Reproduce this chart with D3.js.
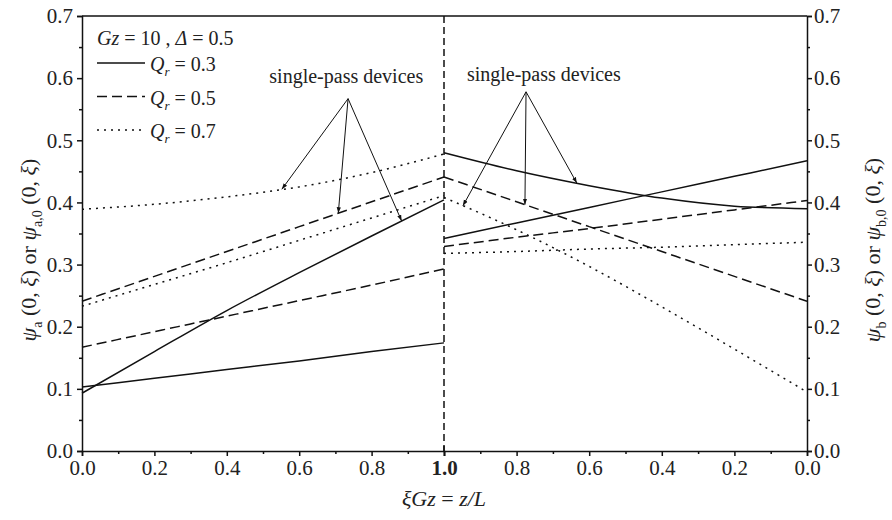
<!DOCTYPE html>
<html>
<head>
<meta charset="utf-8">
<script src="https://cdn.jsdelivr.net/npm/d3@7"></script>
<style>
  body { margin: 0; background: #fff; }
  svg text { font-family: "Liberation Serif", "Times New Roman", serif; fill: #222; }
</style>
</head>
<body>
<div id="container"></div>
<script>
// positions along the unit, left half runs 0 -> 1, right half runs 1 -> 0
var xiLeft = [0, 0.2, 0.4, 0.6, 0.8, 1.0];
var xiRight = [1.0, 0.8, 0.6, 0.4, 0.2, 0.0];

// Qr = 0.3 (solid)
var solidLeftA = [0.093, 0.160, 0.226, 0.287, 0.346, 0.404];
var solidLeftB = [0.103, 0.117, 0.131, 0.145, 0.160, 0.174];
var solidRightA = [0.480, 0.451, 0.427, 0.407, 0.394, 0.390];
var solidRightB = [0.342, 0.367, 0.392, 0.417, 0.442, 0.467];
// Qr = 0.5 (dashed)
var dashLeftA = [0.241, 0.281, 0.321, 0.361, 0.401, 0.441];
var dashLeftB = [0.167, 0.192, 0.217, 0.242, 0.267, 0.293];
var dashRightA = [0.441, 0.401, 0.361, 0.321, 0.281, 0.241];
var dashRightB = [0.329, 0.344, 0.358, 0.373, 0.388, 0.403];
// Qr = 0.7 (dotted)
var dotLeftA = [0.389, 0.397, 0.409, 0.425, 0.448, 0.478];
var dotLeftB = [0.233, 0.268, 0.303, 0.339, 0.375, 0.411];
var dotRightA = [0.408, 0.356, 0.297, 0.232, 0.164, 0.095];
var dotRightB = [0.318, 0.321, 0.325, 0.328, 0.332, 0.336];

var yTicks = [0, 0.1, 0.2, 0.3, 0.4, 0.5, 0.6, 0.7];
var yMinor = [0.05, 0.15, 0.25, 0.35, 0.45, 0.55, 0.65];
var xTicksLeft = [0, 0.2, 0.4, 0.6, 0.8];
var xTicksRight = [0.8, 0.6, 0.4, 0.2, 0];
var xMinor = [0.1, 0.3, 0.5, 0.7, 0.9];
var legendLabels = ["0.3", "0.5", "0.7"];

var width = 892, height = 520;
var styles = { solid: null, dashed: "10,5", dotted: "2,5" };

var svg = d3.select("#container").append("svg")
    .attr("width", width)
    .attr("height", height);

var xLeft = d3.scaleLinear().domain([0, 1]).range([82, 444]);
var xRight = d3.scaleLinear().domain([1, 0]).range([444, 807]);
var y = d3.scaleLinear().domain([0, 0.7]).range([451, 16]);

// curves
var series = [
  { xs: xiLeft, ys: solidLeftA, sc: xLeft, st: "solid" },
  { xs: xiLeft, ys: solidLeftB, sc: xLeft, st: "solid" },
  { xs: xiRight, ys: solidRightA, sc: xRight, st: "solid" },
  { xs: xiRight, ys: solidRightB, sc: xRight, st: "solid" },
  { xs: xiLeft, ys: dashLeftA, sc: xLeft, st: "dashed" },
  { xs: xiLeft, ys: dashLeftB, sc: xLeft, st: "dashed" },
  { xs: xiRight, ys: dashRightA, sc: xRight, st: "dashed" },
  { xs: xiRight, ys: dashRightB, sc: xRight, st: "dashed" },
  { xs: xiLeft, ys: dotLeftA, sc: xLeft, st: "dotted" },
  { xs: xiLeft, ys: dotLeftB, sc: xLeft, st: "dotted" },
  { xs: xiRight, ys: dotRightA, sc: xRight, st: "dotted" },
  { xs: xiRight, ys: dotRightB, sc: xRight, st: "dotted" }
];

var curves = svg.append("g");
series.forEach(function(s) {
  var pts = s.xs.map(function(v, i) { return [s.sc(v), y(s.ys[i])]; });
  pts.sort(function(a, b) { return a[0] - b[0]; });
  curves.append("path")
    .attr("d", d3.line().curve(d3.curveMonotoneX)(pts))
    .attr("fill", "none")
    .attr("stroke", "#111")
    .attr("stroke-width", 1.5)
    .attr("stroke-dasharray", styles[s.st]);
});

// middle dashed divider
svg.append("line")
    .attr("x1", xLeft(1)).attr("x2", xLeft(1))
    .attr("y1", y(0.7)).attr("y2", y(0))
    .attr("stroke", "#111").attr("stroke-width", 1.5)
    .attr("stroke-dasharray", "7,4");

// axes
function styleAxis(g, fs) {
  g.select(".domain").attr("stroke", "#111").attr("stroke-width", 1.5);
  g.selectAll(".tick line").attr("stroke", "#111").attr("stroke-width", 1.5);
  g.selectAll(".tick text").style("font-size", fs + "px").attr("fill", "#222");
}

var leftAx = svg.append("g").attr("transform", "translate(82,0)")
    .call(d3.axisLeft(y).tickValues(yTicks).tickFormat(d3.format(".1f")).tickSizeOuter(0).tickSize(5).tickPadding(4));
styleAxis(leftAx, 21);
svg.append("g").attr("transform", "translate(82,0)")
    .call(d3.axisLeft(y).tickValues(yMinor).tickFormat("").tickSizeOuter(0).tickSize(3))
    .call(function(g) { styleAxis(g, 21); g.select(".domain").remove(); });

var rightAx = svg.append("g").attr("transform", "translate(807,0)")
    .call(d3.axisRight(y).tickValues(yTicks).tickFormat(d3.format(".1f")).tickSizeOuter(0).tickSize(5).tickPadding(2));
styleAxis(rightAx, 21);
svg.append("g").attr("transform", "translate(807,0)")
    .call(d3.axisRight(y).tickValues(yMinor).tickFormat("").tickSizeOuter(0).tickSize(3))
    .call(function(g) { styleAxis(g, 21); g.select(".domain").remove(); });

var botLeft = svg.append("g").attr("transform", "translate(0,451)")
    .call(d3.axisBottom(xLeft).tickValues(xTicksLeft.concat([1])).tickFormat(d3.format(".1f")).tickSizeOuter(0).tickSize(5).tickPadding(4));
styleAxis(botLeft, 21);
botLeft.selectAll(".tick text").filter(function(d) { return d === 1; }).style("font-weight", "bold");
svg.append("g").attr("transform", "translate(0,451)")
    .call(d3.axisBottom(xLeft).tickValues(xMinor).tickFormat("").tickSizeOuter(0).tickSize(3))
    .call(function(g) { styleAxis(g, 21); g.select(".domain").remove(); });

var botRight = svg.append("g").attr("transform", "translate(0,451)")
    .call(d3.axisBottom(xRight).tickValues(xTicksRight).tickFormat(d3.format(".1f")).tickSizeOuter(0).tickSize(5).tickPadding(4));
styleAxis(botRight, 21);
svg.append("g").attr("transform", "translate(0,451)")
    .call(d3.axisBottom(xRight).tickValues(xMinor).tickFormat("").tickSizeOuter(0).tickSize(3))
    .call(function(g) { styleAxis(g, 21); g.select(".domain").remove(); });

// 1.0 tick crosses into the plot
svg.append("line")
    .attr("x1", xLeft(1)).attr("x2", xLeft(1))
    .attr("y1", y(0) - 5).attr("y2", y(0))
    .attr("stroke", "#111").attr("stroke-width", 1.5);

// top frame
svg.append("line")
    .attr("x1", xLeft(0)).attr("x2", xRight(0))
    .attr("y1", y(0.7)).attr("y2", y(0.7))
    .attr("stroke", "#111").attr("stroke-width", 1.5);

// axis titles
var xTitle = svg.append("text")
    .attr("x", 444).attr("y", 506)
    .attr("text-anchor", "middle")
    .style("font-size", "22px").style("font-style", "italic");
xTitle.append("tspan").text("ξGz");
xTitle.append("tspan").style("font-style", "normal").text(" = ");
xTitle.append("tspan").text("z/L");

function psiTitle(x, sub) {
  var t = svg.append("text")
      .attr("transform", "translate(" + x + ",250) rotate(-90)")
      .attr("text-anchor", "middle")
      .style("font-size", "22px");
  t.append("tspan").style("font-style", "italic").text("ψ");
  t.append("tspan").attr("dy", 6).style("font-size", "14px").text(sub);
  t.append("tspan").attr("dy", -6).text(" (0, ");
  t.append("tspan").style("font-style", "italic").text("ξ");
  t.append("tspan").text(") or ");
  t.append("tspan").style("font-style", "italic").text("ψ");
  t.append("tspan").attr("dy", 6).style("font-size", "14px").text(sub + ",0");
  t.append("tspan").attr("dy", -6).text(" (0, ");
  t.append("tspan").style("font-style", "italic").text("ξ");
  t.append("tspan").text(")");
}
psiTitle(36, "a");
psiTitle(880, "b");

// legend
var lg = svg.append("g");
var head = lg.append("text").attr("x", 97).attr("y", 45).style("font-size", "20px");
head.append("tspan").style("font-style", "italic").text("Gz");
head.append("tspan").text(" = 10 , ");
head.append("tspan").style("font-style", "italic").text("Δ");
head.append("tspan").text(" = 0.5");

["solid", "dashed", "dotted"].forEach(function(st, i) {
  var ly = 63 + i * 33.5;
  lg.append("line")
    .attr("x1", 97).attr("x2", 145)
    .attr("y1", ly).attr("y2", ly)
    .attr("stroke", "#111").attr("stroke-width", 1.5)
    .attr("stroke-dasharray", styles[st]);
  var t = lg.append("text").attr("x", 150).attr("y", ly + 8).style("font-size", "20px");
  t.append("tspan").style("font-style", "italic").text("Q");
  t.append("tspan").attr("dy", 5).style("font-size", "13px").style("font-style", "italic").text("r");
  t.append("tspan").attr("dy", -5).text(" = " + legendLabels[i]);
});

// annotations
svg.append("defs").append("marker")
    .attr("id", "ah")
    .attr("viewBox", "0 0 10 10")
    .attr("refX", 10).attr("refY", 5)
    .attr("markerWidth", 6).attr("markerHeight", 6)
    .attr("markerUnits", "userSpaceOnUse")
    .attr("orient", "auto")
  .append("path").attr("d", "M0,1.5L10,5L0,8.5z").attr("fill", "#111");

function valueAt(xs, ys, v) {
  for (var i = 0; i < xs.length - 1; i++) {
    var a = xs[i], b = xs[i + 1];
    if ((v - a) * (v - b) <= 0) return ys[i] + (ys[i + 1] - ys[i]) * (v - a) / (b - a);
  }
  return ys[ys.length - 1];
}

var notes = [
  { sc: xLeft, tx: 0.73, ty: 0.592, ox: 0.735, oy: 0.567,
    tips: [[xiLeft, dotLeftA, 0.552], [xiLeft, dashLeftA, 0.708], [xiLeft, solidLeftA, 0.883]] },
  { sc: xRight, tx: 0.725, ty: 0.595, ox: 0.774, oy: 0.578,
    tips: [[xiRight, dotRightA, 0.948], [xiRight, dashRightA, 0.777], [xiRight, solidRightA, 0.634]] }
];
notes.forEach(function(n) {
  svg.append("text")
    .attr("x", n.sc(n.tx)).attr("y", y(n.ty))
    .attr("text-anchor", "middle")
    .style("font-size", "20px")
    .text("single-pass devices");
  n.tips.forEach(function(tp) {
    svg.append("line")
      .attr("x1", n.sc(n.ox)).attr("y1", y(n.oy))
      .attr("x2", n.sc(tp[2])).attr("y2", y(valueAt(tp[0], tp[1], tp[2])))
      .attr("stroke", "#111").attr("stroke-width", 1)
      .attr("marker-end", "url(#ah)");
  });
});
</script>
</body>
</html>
